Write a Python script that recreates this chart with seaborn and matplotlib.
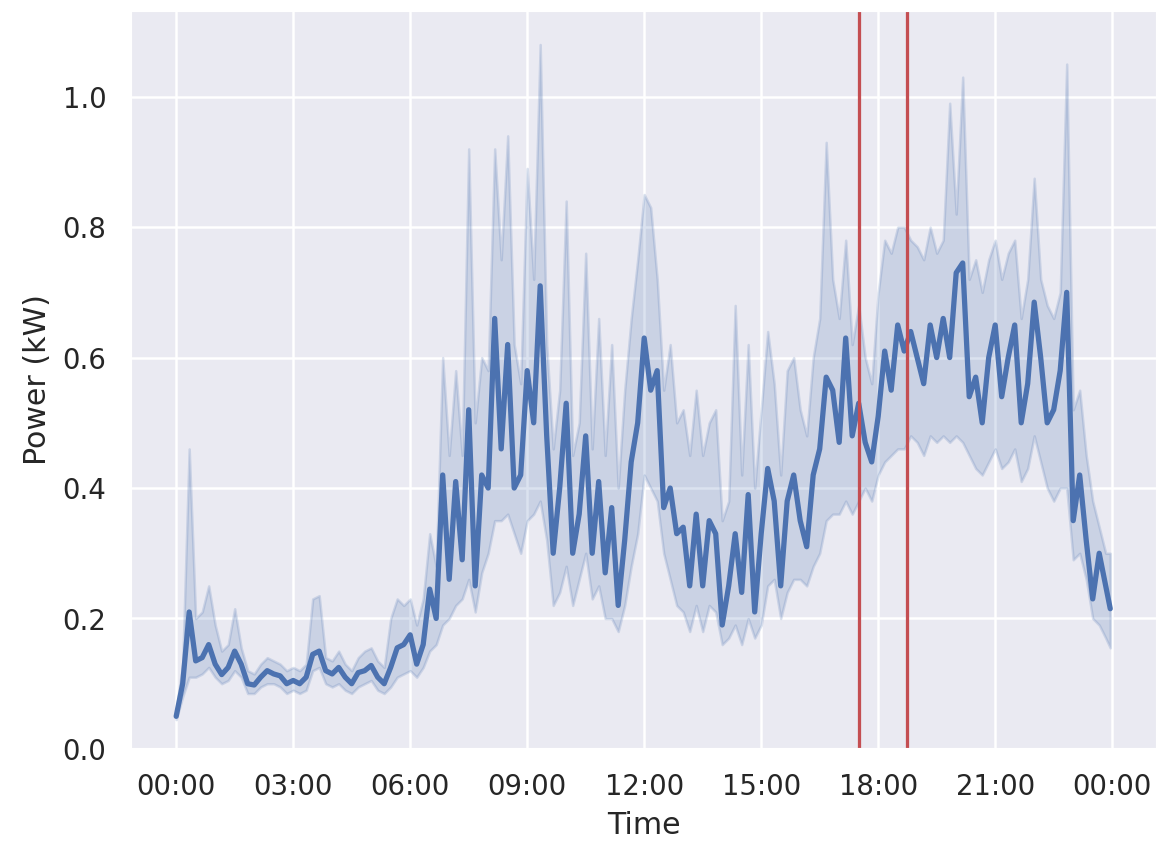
import pandas as pd
import matplotlib
matplotlib.use("Agg")
import matplotlib.pyplot as plt
import matplotlib.dates as mdates
import seaborn as sns

# 10 minute samples, 00:00 .. 23:50, plus the last reading at 23:57
power = [0.05, 0.10, 0.21, 0.135, 0.14, 0.16, 0.13, 0.114, 0.125, 0.15, 0.13, 0.10,
         0.098, 0.11, 0.12, 0.115, 0.112, 0.10, 0.105, 0.10, 0.11, 0.145, 0.15, 0.12,
         0.115, 0.125, 0.11, 0.10, 0.117, 0.12, 0.128, 0.11, 0.10, 0.125, 0.155, 0.16,
         0.175, 0.13, 0.16, 0.245, 0.20, 0.42, 0.26, 0.41, 0.29, 0.52, 0.25, 0.42,
         0.40, 0.66, 0.46, 0.62, 0.40, 0.42, 0.58, 0.50, 0.71, 0.48, 0.30, 0.40,
         0.53, 0.30, 0.36, 0.48, 0.30, 0.41, 0.27, 0.37, 0.22, 0.32, 0.44, 0.50,
         0.63, 0.55, 0.58, 0.37, 0.40, 0.33, 0.34, 0.25, 0.36, 0.25, 0.35, 0.33,
         0.19, 0.25, 0.33, 0.24, 0.39, 0.21, 0.33, 0.43, 0.38, 0.25, 0.38, 0.42,
         0.35, 0.31, 0.42, 0.46, 0.57, 0.55, 0.47, 0.63, 0.48, 0.53, 0.47, 0.44,
         0.51, 0.61, 0.55, 0.65, 0.61, 0.64, 0.60, 0.56, 0.65, 0.60, 0.66, 0.60,
         0.73, 0.745, 0.54, 0.57, 0.50, 0.60, 0.65, 0.54, 0.60, 0.65, 0.50, 0.56,
         0.685, 0.60, 0.50, 0.52, 0.58, 0.70, 0.35, 0.42, 0.32, 0.23, 0.30, 0.25,
         0.215]
lower = [0.045, 0.08, 0.11, 0.11, 0.115, 0.125, 0.11, 0.10, 0.105, 0.12, 0.11, 0.085,
         0.085, 0.095, 0.10, 0.10, 0.095, 0.085, 0.09, 0.085, 0.09, 0.12, 0.125, 0.10,
         0.095, 0.10, 0.09, 0.085, 0.095, 0.10, 0.105, 0.09, 0.085, 0.095, 0.11, 0.115,
         0.12, 0.11, 0.125, 0.15, 0.16, 0.19, 0.20, 0.22, 0.23, 0.26, 0.21, 0.27,
         0.30, 0.35, 0.35, 0.36, 0.33, 0.30, 0.35, 0.36, 0.38, 0.32, 0.22, 0.24,
         0.28, 0.22, 0.26, 0.30, 0.23, 0.25, 0.20, 0.20, 0.18, 0.22, 0.28, 0.33,
         0.42, 0.40, 0.38, 0.30, 0.26, 0.22, 0.21, 0.18, 0.22, 0.18, 0.22, 0.21,
         0.16, 0.17, 0.19, 0.16, 0.20, 0.17, 0.19, 0.25, 0.26, 0.20, 0.24, 0.26,
         0.26, 0.25, 0.28, 0.30, 0.35, 0.36, 0.36, 0.38, 0.36, 0.38, 0.40, 0.38,
         0.42, 0.44, 0.45, 0.46, 0.46, 0.48, 0.47, 0.45, 0.48, 0.47, 0.48, 0.47,
         0.48, 0.47, 0.45, 0.43, 0.42, 0.44, 0.46, 0.43, 0.44, 0.46, 0.41, 0.43,
         0.48, 0.44, 0.40, 0.38, 0.40, 0.40, 0.29, 0.30, 0.26, 0.20, 0.19, 0.17,
         0.155]
upper = [0.06, 0.13, 0.46, 0.20, 0.21, 0.25, 0.19, 0.15, 0.16, 0.215, 0.155, 0.12,
         0.115, 0.13, 0.14, 0.135, 0.13, 0.12, 0.125, 0.12, 0.13, 0.23, 0.235, 0.14,
         0.135, 0.15, 0.13, 0.12, 0.14, 0.15, 0.155, 0.135, 0.125, 0.20, 0.23, 0.22,
         0.23, 0.19, 0.23, 0.33, 0.28, 0.60, 0.45, 0.58, 0.45, 0.92, 0.50, 0.60,
         0.58, 0.92, 0.75, 0.94, 0.62, 0.56, 0.89, 0.72, 1.08, 0.62, 0.46, 0.55,
         0.84, 0.45, 0.50, 0.76, 0.46, 0.66, 0.45, 0.62, 0.40, 0.55, 0.66, 0.75,
         0.85, 0.83, 0.72, 0.55, 0.62, 0.50, 0.52, 0.45, 0.55, 0.45, 0.50, 0.52,
         0.35, 0.38, 0.68, 0.42, 0.62, 0.40, 0.52, 0.64, 0.56, 0.42, 0.58, 0.60,
         0.52, 0.48, 0.60, 0.66, 0.93, 0.72, 0.66, 0.78, 0.62, 0.68, 0.60, 0.56,
         0.70, 0.78, 0.76, 0.80, 0.80, 0.78, 0.77, 0.75, 0.80, 0.76, 0.78, 0.99,
         0.82, 1.03, 0.72, 0.75, 0.70, 0.75, 0.78, 0.72, 0.76, 0.78, 0.66, 0.72,
         0.875, 0.72, 0.68, 0.66, 0.70, 1.05, 0.52, 0.55, 0.45, 0.38, 0.34, 0.30,
         0.30]

day = pd.Timestamp("2020-01-01")
times = list(pd.date_range(day, periods=144, freq="10min")) + [day + pd.Timedelta(minutes=1437)]
markers = ["17:30", "18:45"]

df = pd.DataFrame({"Time": times, "Power": power, "lo": lower, "hi": upper})

sns.set_theme(style="darkgrid", color_codes=True)

fig, ax = plt.subplots(figsize=(6.45, 4.69), dpi=180)
fig.subplots_adjust(left=0.112, right=0.9966, top=0.988, bottom=0.1126)

sns.lineplot(data=df, x="Time", y="Power", ax=ax, color="b", linewidth=2.1)
ax.fill_between(df["Time"], df["lo"], df["hi"], color="b", alpha=0.2)

for m in markers:
    ax.axvline(day + pd.Timedelta(m + ":00"), color="r", linewidth=1.3)

ax.xaxis.set_major_locator(mdates.HourLocator(byhour=range(0, 24, 3)))
ax.xaxis.set_major_formatter(mdates.DateFormatter("%H:%M"))
ax.set_xlim(day - pd.Timedelta(minutes=71), day + pd.Timedelta(minutes=1509))
ax.set_ylim(0, 1.133)
ax.set_yticks([0.0, 0.2, 0.4, 0.6, 0.8, 1.0])
ax.set_xlabel("Time")
ax.set_ylabel("Power (kW)")

fig.savefig("out.png", dpi=180)
